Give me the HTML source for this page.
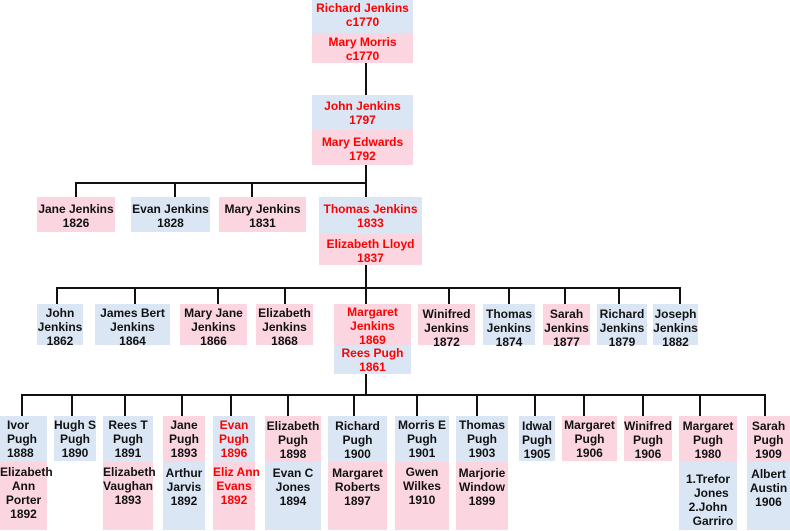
<!DOCTYPE html>
<html><head><meta charset="utf-8"><style>
body{margin:0;width:790px;height:531px;background:#fff;position:relative;overflow:hidden;font-family:"Liberation Sans",sans-serif;font-weight:bold;font-size:12px;color:#111}
div{position:absolute;box-sizing:border-box}
.b{background:#dae6f4}.p{background:#fbd6e1}
.t{text-align:center;line-height:14px;padding-top:2px;white-space:nowrap;overflow:visible}
.r{color:#f00}
.l{background:#111}
</style></head><body>
<!-- lines -->
<div class="l" style="left:365px;top:63px;width:2px;height:32px"></div>
<div class="l" style="left:365px;top:165px;width:2px;height:33px"></div>
<div class="l" style="left:75px;top:182px;width:292px;height:2px"></div>
<div class="l" style="left:75px;top:182px;width:2px;height:16px"></div>
<div class="l" style="left:174px;top:182px;width:2px;height:16px"></div>
<div class="l" style="left:251px;top:182px;width:2px;height:16px"></div>
<div class="l" style="left:365px;top:265px;width:2px;height:39px"></div>
<div class="l" style="left:56px;top:287px;width:625px;height:2px"></div>
<div class="l" style="left:56px;top:287px;width:2px;height:17px"></div>
<div class="l" style="left:134px;top:287px;width:2px;height:17px"></div>
<div class="l" style="left:217px;top:287px;width:2px;height:17px"></div>
<div class="l" style="left:284px;top:287px;width:2px;height:17px"></div>
<div class="l" style="left:448px;top:287px;width:2px;height:17px"></div>
<div class="l" style="left:508px;top:287px;width:2px;height:17px"></div>
<div class="l" style="left:564px;top:287px;width:2px;height:17px"></div>
<div class="l" style="left:618px;top:287px;width:2px;height:17px"></div>
<div class="l" style="left:679px;top:287px;width:2px;height:17px"></div>
<div class="l" style="left:365px;top:374px;width:2px;height:21px"></div>
<div class="l" style="left:21px;top:394px;width:745px;height:2px"></div>
<div class="l" style="left:21px;top:394px;width:2px;height:22px"></div>
<div class="l" style="left:71px;top:394px;width:2px;height:22px"></div>
<div class="l" style="left:124px;top:394px;width:2px;height:22px"></div>
<div class="l" style="left:181px;top:394px;width:2px;height:22px"></div>
<div class="l" style="left:230px;top:394px;width:2px;height:22px"></div>
<div class="l" style="left:287px;top:394px;width:2px;height:22px"></div>
<div class="l" style="left:353px;top:394px;width:2px;height:22px"></div>
<div class="l" style="left:416px;top:394px;width:2px;height:22px"></div>
<div class="l" style="left:476px;top:394px;width:2px;height:22px"></div>
<div class="l" style="left:534px;top:394px;width:2px;height:22px"></div>
<div class="l" style="left:583px;top:394px;width:2px;height:22px"></div>
<div class="l" style="left:642px;top:394px;width:2px;height:22px"></div>
<div class="l" style="left:699px;top:394px;width:2px;height:22px"></div>
<div class="l" style="left:764px;top:394px;width:2px;height:22px"></div>

<!-- gen 1 -->
<div class="b t r" style="left:312px;top:0;width:101px;height:33px;padding-top:1px">Richard Jenkins<br>c1770</div>
<div class="p t r" style="left:312px;top:33px;width:101px;height:30px">Mary Morris<br>c1770</div>
<div class="b t r" style="left:312px;top:95px;width:101px;height:35px;padding-top:4px">John Jenkins<br>1797</div>
<div class="p t r" style="left:312px;top:130px;width:101px;height:35px;padding-top:5px">Mary Edwards<br>1792</div>

<!-- gen 2 -->
<div class="p t" style="left:37px;top:197px;width:78px;height:35px;padding-top:5px">Jane Jenkins<br>1826</div>
<div class="b t" style="left:131px;top:197px;width:79px;height:35px;padding-top:5px">Evan Jenkins<br>1828</div>
<div class="p t" style="left:219px;top:197px;width:87px;height:35px;padding-top:5px">Mary Jenkins<br>1831</div>
<div class="b t r" style="left:319px;top:197px;width:103px;height:37px;padding-top:5px">Thomas Jenkins<br>1833</div>
<div class="p t r" style="left:319px;top:234px;width:103px;height:31px;padding-top:3px">Elizabeth Lloyd<br>1837</div>

<!-- gen 3 -->
<div class="b t" style="left:37px;top:304px;width:46px;height:41px">John<br>Jenkins<br>1862</div>
<div class="b t" style="left:95px;top:304px;width:75px;height:41px">James Bert<br>Jenkins<br>1864</div>
<div class="p t" style="left:180px;top:304px;width:67px;height:41px">Mary Jane<br>Jenkins<br>1866</div>
<div class="p t" style="left:256px;top:304px;width:57px;height:41px">Elizabeth<br>Jenkins<br>1868</div>
<div class="p t r" style="left:334px;top:304px;width:77px;height:42px;padding-top:1px">Margaret<br>Jenkins<br>1869</div>
<div class="b t r" style="left:334px;top:346px;width:77px;height:28px;padding-top:0">Rees Pugh<br>1861</div>
<div class="p t" style="left:418px;top:304px;width:57px;height:41px;padding-top:3px">Winifred<br>Jenkins<br>1872</div>
<div class="b t" style="left:483px;top:304px;width:52px;height:41px;padding-top:3px">Thomas<br>Jenkins<br>1874</div>
<div class="p t" style="left:543px;top:304px;width:47px;height:41px;padding-top:3px">Sarah<br>Jenkins<br>1877</div>
<div class="b t" style="left:597px;top:304px;width:50px;height:41px;padding-top:3px">Richard<br>Jenkins<br>1879</div>
<div class="b t" style="left:653px;top:304px;width:45px;height:41px;padding-top:3px">Joseph<br>Jenkins<br>1882</div>

<!-- gen 4 -->
<div class="b t" style="left:0;top:416px;width:47px;height:46px;text-align:left;padding-left:7px">Ivor<br>Pugh<br>1888</div>
<div class="p t" style="left:0;top:462px;width:47px;height:68px;padding-top:3px">Elizabeth<br>Ann<br>Porter<br>1892</div>
<div class="b t" style="left:54px;top:416px;width:42px;height:45px">Hugh S<br>Pugh<br>1890</div>
<div class="b t" style="left:103px;top:416px;width:50px;height:46px">Rees T<br>Pugh<br>1891</div>
<div class="p t" style="left:103px;top:462px;width:50px;height:68px;padding-top:3px">Elizabeth<br>Vaughan<br>1893</div>
<div class="p t" style="left:163px;top:416px;width:42px;height:46px">Jane<br>Pugh<br>1893</div>
<div class="b t" style="left:163px;top:462px;width:42px;height:68px;padding-top:4px">Arthur<br>Jarvis<br>1892</div>
<div class="b t r" style="left:213px;top:416px;width:42px;height:46px">Evan<br>Pugh<br>1896</div>
<div class="p t r" style="left:213px;top:462px;width:42px;height:68px;padding-top:3px">Eliz Ann<br>Evans<br>1892</div>
<div class="p t" style="left:265px;top:416px;width:56px;height:46px;padding-top:3px">Elizabeth<br>Pugh<br>1898</div>
<div class="b t" style="left:265px;top:462px;width:56px;height:68px;padding-top:4px">Evan C<br>Jones<br>1894</div>
<div class="b t" style="left:328px;top:416px;width:59px;height:46px;padding-top:3px">Richard<br>Pugh<br>1900</div>
<div class="p t" style="left:328px;top:462px;width:59px;height:68px;padding-top:4px">Margaret<br>Roberts<br>1897</div>
<div class="b t" style="left:395px;top:416px;width:54px;height:46px">Morris E<br>Pugh<br>1901</div>
<div class="p t" style="left:395px;top:462px;width:54px;height:68px;padding-top:3px">Gwen<br>Wilkes<br>1910</div>
<div class="b t" style="left:456px;top:416px;width:52px;height:46px">Thomas<br>Pugh<br>1903</div>
<div class="p t" style="left:456px;top:462px;width:52px;height:68px;padding-top:4px">Marjorie<br>Window<br>1899</div>
<div class="b t" style="left:519px;top:416px;width:36px;height:45px;padding-top:3px">Idwal<br>Pugh<br>1905</div>
<div class="p t" style="left:562px;top:416px;width:55px;height:45px">Margaret<br>Pugh<br>1906</div>
<div class="p t" style="left:624px;top:416px;width:48px;height:45px;padding-top:3px">Winifred<br>Pugh<br>1906</div>
<div class="p t" style="left:679px;top:416px;width:58px;height:46px;padding-top:3px">Margaret<br>Pugh<br>1980</div>
<div class="b t" style="left:679px;top:462px;width:58px;height:68px;padding-top:10px">1.Trefor<br>&nbsp;&nbsp;Jones<br>2.John<br>&nbsp;&nbsp;&nbsp;Garriro</div>
<div class="p t" style="left:747px;top:416px;width:43px;height:46px;padding-top:3px">Sarah<br>Pugh<br>1909</div>
<div class="b t" style="left:747px;top:462px;width:43px;height:68px;padding-top:5px">Albert<br>Austin<br>1906</div>
</body></html>
